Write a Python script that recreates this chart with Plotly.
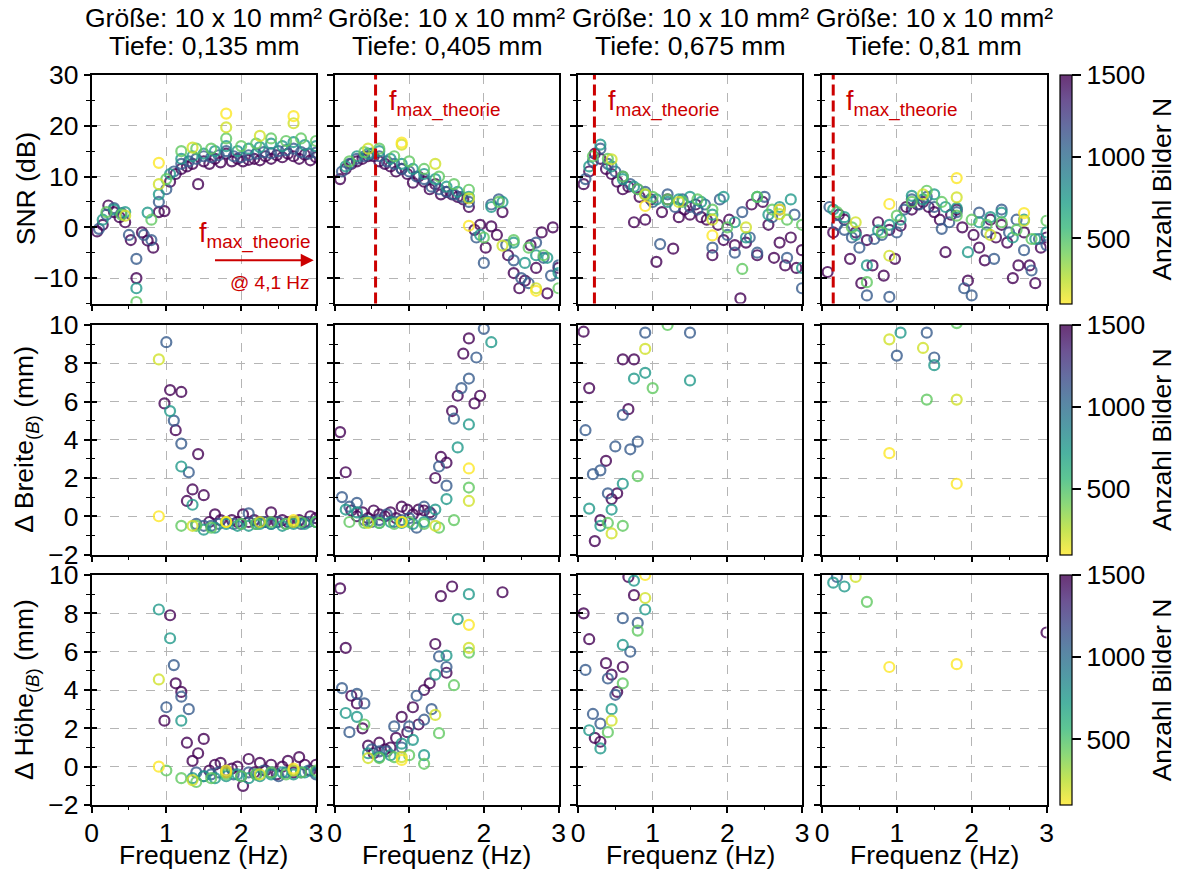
import plotly.graph_objects as go

_ = None

# ---------------- frequency bins (Hz) for each number of images N ----------------
F1500 = [0.075, 0.15, 0.225, 0.3, 0.375, 0.45, 0.525, 0.6, 0.675, 0.75, 0.825, 0.9, 0.975, 1.05,
         1.125, 1.2, 1.275, 1.35, 1.425, 1.5, 1.575, 1.65, 1.725, 1.8, 1.875, 1.95, 2.025, 2.1,
         2.175, 2.25, 2.325, 2.4, 2.475, 2.55, 2.625, 2.7, 2.775, 2.85, 2.925, 3.0]
F1100 = [0.1, 0.2, 0.3, 0.4, 0.5, 0.6, 0.7, 0.8, 0.9, 1.0, 1.1, 1.2, 1.3, 1.4, 1.5, 1.6, 1.7, 1.8,
         1.9, 2.0, 2.1, 2.2, 2.3, 2.4, 2.5, 2.6, 2.7, 2.8, 2.9, 3.0]
F750 = [0.15, 0.3, 0.45, 0.6, 0.75, 0.9, 1.05, 1.2, 1.35, 1.5, 1.65, 1.8, 1.95, 2.1, 2.25, 2.4,
        2.55, 2.7, 2.85, 3.0]
F450 = [0.2, 0.4, 0.6, 0.8, 1.0, 1.2, 1.4, 1.6, 1.8, 2.0, 2.2, 2.4, 2.6, 2.8, 3.0]
F200 = [0.45, 0.9, 1.35, 1.8, 2.25, 2.7]
F100 = [0.9, 1.8, 2.7]

# ---------------- SNR (dB) ----------------
S1_1500 = [-0.8, 0.5, 4.3, 3.0, 2.0, 1.0, -2.5, -10.0, -1.0, -2.6, -4.0, 3.0, 3.2, 9.0, 10.5, 11.5,
           12.0, 12.5, 8.5, 13.0, 12.5, 13.5, 12.8, 14.5, 13.0, 13.5, 13.0, 13.3, 13.5, 13.2, 14.0,
           13.5, 14.2, 13.8, 14.5, 14.0, 13.5, 14.3, 13.2, 13.8]
S1_1100 = [-0.3, 2.5, 3.8, 2.8, -1.5, -6.2, -1.5, -2.5, 5.0, 7.5, 11.0, 12.5, 13.0, 13.5, 14.0,
           13.8, 14.2, 15.0, 14.0, 13.8, 14.2, 14.5, 14.8, 14.6, 15.0, 15.2, 15.5, 14.8, 14.5, 14.7]
S1_750 = [1.5, 3.5, 3.0, -12.0, 2.9, 6.5, 10.5, 13.5, 14.0, 14.5, 15.0, 16.0, 15.0, 15.5, 15.8,
          16.5, 16.0, 16.8, 16.2, 16.0]
S1_450 = [3.0, 2.5, -14.7, 1.5, 9.5, 15.0, 15.5, 15.5, 17.5, 16.0, 16.5, 17.5, 17.0, 17.5, 17.0]
S1_200 = [2.3, 8.5, 15.7, 19.7, 18.0, 20.5]
S1_100 = [12.7, 22.4, 21.9]

S2_1500 = [9.5, 11.5, 12.5, 13.0, 13.5, 14.0, 14.0, 13.0, 12.5, 12.0, 11.0, 11.5, 10.5, 8.8, 10.0,
           9.0, 7.5, 8.5, 6.5, 7.0, 6.5, 6.0, 5.5, 4.0, -0.5, 0.5, -4.0, 0.2, -1.5, 3.0, -5.5, -9.0,
           -12.0, -10.5, -3.5, -8.0, -1.0, -13.0, 0.0, -8.0]
S2_1100 = [11.0, 12.5, 13.5, 14.0, 14.5, 14.0, 13.0, 12.5, 11.5, 11.0, 10.0, 9.5, 8.0, 7.5, 7.0,
           6.5, 6.0, 5.0, -2.0, -7.0, 4.5, 5.5, -3.5, -6.5, -10.0, -11.0, -3.0, -6.0, -9.5, -7.5]
S2_750 = [12.0, 14.0, 14.5, 15.0, 13.5, 12.5, 11.5, 10.5, 9.5, 8.0, 7.0, 6.0, -1.5, 4.0, 5.0, -3.0,
          -7.0, -5.5, -6.0, -9.0]
S2_450 = [13.0, 14.8, 15.5, 14.0, 13.0, 11.5, 10.0, 8.5, 7.4, -2.0, 5.0, -2.5, -4.0, -5.5, -12.0]
S2_200 = [15.5, 16.3, 12.5, 5.7, -3.6, -12.0]
S2_100 = [16.7, 0.3, -12.5]

S3_1500 = [8.5, 11.0, 14.5, 13.5, 11.5, 10.5, 9.0, 7.5, 8.0, 1.0, 6.0, 1.5, 5.5, -6.8, 3.0, 5.5,
           -4.2, 2.0, 3.5, 2.5, 4.5, 2.0, 1.5, -5.5, 0.5, -2.5, 1.5, -3.5, -14.0, -3.0, 4.5, -5.5,
           5.0, 0.5, -6.0, -3.0, -7.5, -2.0, -8.0, -4.5]
S3_1100 = [9.5, 13.0, 15.5, 12.5, 11.0, 10.0, 8.5, 7.5, 7.0, 5.0, -3.3, 6.5, 4.0, 5.5, 4.0, 3.5,
           4.5, -4.0, 5.5, -1.5, -5.0, 3.0, -2.0, -5.0, 6.0, 2.0, 3.5, -6.0, 2.5, -12.0]
S3_750 = [12.0, 16.3, 12.0, 9.5, 8.0, 6.5, 5.5, 5.0, 5.5, 6.0, 5.0, 2.5, 6.0, 1.0, -2.0, 6.0, 2.5,
          4.0, 5.5, -8.0]
S3_450 = [14.0, 13.5, 10.0, 7.5, 6.0, 5.5, 5.0, 5.5, 3.5, 0.0, -8.2, 6.0, 3.5, 1.5, 0.5]
S3_200 = [13.4, 6.5, 5.0, 1.5, 0.0, 2.6]
S3_100 = [4.2, -1.6, 3.5]

S4_1500 = [-8.8, -1.0, 2.5, 1.5, -6.2, -1.0, -11.0, -2.5, -7.5, 1.0, -9.5, -0.5, -6.2, 0.3, 4.0,
           3.5, 4.5, 5.0, 4.0, 3.0, 1.5, -4.9, 2.5, 3.5, 0.0, -10.5, -1.5, -4.0, -6.5, 1.5, -2.0,
           0.5, -3.0, -10.0, -7.5, -1.0, -7.5, -11.0, -4.0, -2.0]
S4_1100 = [4.0, 0.5, -0.5, -2.0, -4.0, -13.4, -2.3, -1.5, -13.7, -1.0, 3.5, 5.5, 4.5, 6.0, 4.0,
           -0.3, 1.0, 3.0, -12.0, -13.4, 2.9, -1.0, -6.2, 3.5, -1.0, 1.5, -4.5, -8.5, -2.3, -3.5]
S4_750 = [3.5, 2.0, -1.5, -7.5, -0.6, 0.5, 1.5, 6.2, 5.5, 6.5, 4.0, 3.8, -4.9, 1.0, 2.0, 2.9, -2.0,
          1.5, -2.3, -1.0]
S4_450 = [3.0, 0.0, -10.8, -1.0, 2.3, 5.0, 7.2, 5.0, 2.3, 1.5, 0.5, 1.0, -0.5, -2.3, 1.3]
S4_200 = [1.0, -5.6, 6.5, 5.9, -1.5, 1.3]
S4_100 = [4.6, 9.7, 2.8]

# ---------------- Delta Breite (mm) ----------------
B1_1500 = [_, _, _, _, _, _, _, _, _, _, _, _, 5.9, 6.6, 4.5, 6.5, 0.8, 1.4, 3.25, 1.1, -0.3, 0.1,
           -0.2, -0.3, -0.2, -0.3, 0.1, -0.3, -0.2, -0.3, -0.3, 0.2, -0.3, -0.2, -0.3, -0.3, -0.2,
           -0.3, 0.0, -0.1]
B1_1100 = [_, _, _, _, _, _, _, _, _, 9.1, 5.0, 3.8, 2.3, -0.4, -0.5, -0.5, -0.4, -0.3, -0.4, -0.4,
           0.15, -0.4, -0.3, -0.4, -0.3, -0.4, -0.3, -0.4, -0.3, -0.3]
B1_750 = [_, _, _, _, _, _, 5.5, 2.6, 0.6, -0.7, -0.6, -0.4, -0.5, -0.5, -0.4, -0.4, -0.5, -0.4,
          -0.4, -0.3]
B1_450 = [_, _, _, _, _, -0.5, -0.5, -0.6, -0.3, -0.4, -0.4, -0.3, -0.4, -0.3, -0.3]
B1_200 = [_, 8.2, -0.5, -0.3, -0.3, -0.3]
B1_100 = [0.0, -0.3, -0.2]

B2_1500 = [4.4, 2.3, 0.3, 0.0, 0.2, -0.1, 0.3, 0.1, 0.0, 0.2, -0.1, 0.5, 0.35, 0.1, 0.35, 0.3, 0.2,
           2.0, 3.1, 2.8, 5.5, 6.3, 8.5, 9.3, 5.9, 6.3, _, _, _, _, _, _, _, _, _, _, _, _, _, _]
B2_1100 = [1.0, 0.5, 0.7, -0.2, -0.3, -0.2, 0.1, -0.3, -0.2, -0.1, -0.6, 0.5, 0.1, 2.6, 1.6, 5.1,
           6.7, 7.2, 8.3, 9.8, _, _, _, _, _, _, _, _, _, _]
B2_750 = [0.35, 0.2, -0.3, -0.35, -0.3, -0.35, -0.4, -0.3, 0.35, 0.9, 3.6, 4.8, _, 9.1, _, _, _, _,
          _, _]
B2_450 = [-0.3, -0.35, -0.35, -0.4, -0.3, -0.4, -0.6, -0.2, 1.5, _, _, _, _, _, _]
B2_200 = [-0.35, -0.3, -0.5, 0.8, _, _]
B2_100 = [-0.3, 2.5, _]

B3_1500 = [9.65, 6.7, -1.3, -0.2, 2.9, 0.9, 1.2, 8.2, 5.6, 8.2, _, _, _, _, _, _, _, _, _, _,
           _, _, _, _, _, _, _, _, _, _, _, _, _, _, _, _, _, _, _, _]
B3_1100 = [4.5, 2.2, 2.4, 1.2, 3.65, 5.3, 3.5, 3.9, 9.6, _, _, _, _, _, 9.6, _, _, _, _, _, _, _, _,
           _, _, _, _, _, _, _]
B3_750 = [0.4, -0.5, 0.35, 1.7, 7.2, 7.5, _, _, _, 7.1, _, _, _, _, _, _, _, _, _, _]
B3_450 = [_, -0.35, -0.5, 2.1, 6.7, 10.0, _, _, _, _, _, _, _, _, _]
B3_200 = [-0.9, 8.75, _, _, _, _]
B3_100 = [_, _, _]

B4_1500 = [_] * 40
B4_1100 = [_, _, _, _, _, _, _, _, _, 8.4, _, _, _, 9.6, 8.3, _, _, _, _, _, _, _, _, _, _, _, _, _,
           _, _]
B4_750 = [_, _, _, _, _, _, 9.6, _, _, 7.9, _, _, _, _, _, _, _, _, _, _]
B4_450 = [_, _, _, _, _, _, 6.1, _, 10.1, _, _, _, _, _, _]
B4_200 = [_, 9.25, 8.8, 6.1, _, _]
B4_100 = [3.3, 1.7, _]

# ---------------- Delta Hoehe (mm) ----------------
H1_1500 = [_, _, _, _, _, _, _, _, _, _, _, _, 2.4, 7.9, 4.35, 3.9, 1.25, 0.3, 0.7, 1.45, -0.2, 0.1,
           0.2, -0.3, -0.1, 0.0, -1.0, 0.4, -0.3, 0.2, -0.2, 0.1, -0.4, 0.0, 0.3, -0.3, 0.5, 0.1,
           -0.2, 0.1]
H1_1100 = [_, _, _, _, _, _, _, _, _, 3.1, 5.3, 3.65, 3.0, -0.3, -0.5, -0.4, -0.3, -0.2, -0.4, -0.5,
           -0.3, -0.4, -0.2, -0.3, -0.5, -0.3, -0.2, -0.3, -0.2, -0.4]
H1_750 = [_, _, _, _, _, 8.2, 6.7, 2.4, -0.6, -0.5, -0.6, -0.5, -0.4, -0.6, -0.5, -0.4, -0.3, -0.4,
          -0.3, -0.3]
H1_450 = [_, _, _, _, -0.2, -0.6, -0.8, -0.6, -0.4, -0.5, -0.4, -0.3, -0.4, -0.3, -0.2]
H1_200 = [_, 4.55, -0.7, -0.3, -0.4, -0.2]
H1_100 = [0.0, -0.2, -0.1]

H2_1500 = [9.3, 6.2, 3.7, 3.3, 2.0, 1.1, 0.7, 1.25, 0.9, 1.0, 1.5, 2.6, 1.8, 3.1, 2.2, 4.0, 4.35,
           6.4, 8.9, 4.9, 9.4, _, _, _, _, _, _, _, _, 9.1, _, _, _, _, _, _, _, _, _, _]
H2_1100 = [4.1, 1.8, 3.8, 3.3, 0.9, 0.8, 0.8, 2.1, 1.0, 2.1, 3.7, 2.45, 3.0, 5.75, 5.2, _, _, _, _,
           _, _, _, _, _, _, _, _, _, _, _]
H2_750 = [2.8, 2.6, 0.7, 0.5, 0.6, 1.2, 1.4, 0.6, 4.8, 5.8, 7.7, 9.0, _, _, _, _, _, _, _, _]
H2_450 = [_, 2.2, 0.45, 0.5, 0.6, 0.15, 1.75, 4.25, 5.95, _, _, _, _, _, _]
H2_200 = [0.45, 0.5, 2.7, 6.2, _, _]
H2_100 = [0.35, 7.4, _]

H3_1500 = [8.0, 6.65, 1.5, 1.3, 5.4, 4.8, 3.9, 5.2, 9.9, 8.95, _, _, _, _, _, _, _, _, _, _,
           _, _, _, _, _, _, _, _, _, _, _, _, _, _, _, _, _, _, _, _]
H3_1100 = [5.05, 2.75, 2.25, 4.6, 3.75, 7.75, 6.0, 7.5, _, _, _, _, _, _, _, _, _, _, _, _, _, _,
           _, _, _, _, _, _, _, _]
H3_750 = [1.9, 0.95, 3.0, 6.35, 9.7, 8.2, _, _, _, _, _, _, _, _, _, _, _, _, _, _]
H3_450 = [_, 1.8, 4.35, 7.1, _, _, _, _, _, _, _, _, _, _, _]
H3_200 = [2.4, 8.8, _, _, _, _]
H3_100 = [10.0, _, _]

H4_1500 = [_] * 39 + [7.0]
H4_1100 = [_, 9.9] + [_] * 28
H4_750 = [9.6, 9.4] + [_] * 18
H4_450 = [_, _, 8.6] + [_] * 12
H4_200 = [9.9, _, _, _, _, _]
H4_100 = [5.2, 5.35, _]

# ---------------- text ----------------
SIZE_LABEL = "Größe: 10 x 10 mm²"
DEPTH_LABELS = ["Tiefe: 0,135 mm", "Tiefe: 0,405 mm", "Tiefe: 0,675 mm", "Tiefe: 0,81 mm"]
Y_TITLES = ["SNR (dB)", "Δ Breite<sub>(<i>B</i>)</sub> (mm)", "Δ Höhe<sub>(<i>B</i>)</sub> (mm)"]
X_TITLE = "Frequenz (Hz)"
CB_TITLE = "Anzahl Bilder N"
F_THEORY = [None, 0.55, 0.22, 0.15]   # Hz, theoretical max. frequency markers

LEVELS = [1500, 1100, 750, 450, 200, 100]
FREQS = {1500: F1500, 1100: F1100, 750: F750, 450: F450, 200: F200, 100: F100}


def panel(a, b, c, d, e, f):
    return dict(zip(LEVELS, [a, b, c, d, e, f]))


PANELS = [
    [panel(S1_1500, S1_1100, S1_750, S1_450, S1_200, S1_100),
     panel(S2_1500, S2_1100, S2_750, S2_450, S2_200, S2_100),
     panel(S3_1500, S3_1100, S3_750, S3_450, S3_200, S3_100),
     panel(S4_1500, S4_1100, S4_750, S4_450, S4_200, S4_100)],
    [panel(B1_1500, B1_1100, B1_750, B1_450, B1_200, B1_100),
     panel(B2_1500, B2_1100, B2_750, B2_450, B2_200, B2_100),
     panel(B3_1500, B3_1100, B3_750, B3_450, B3_200, B3_100),
     panel(B4_1500, B4_1100, B4_750, B4_450, B4_200, B4_100)],
    [panel(H1_1500, H1_1100, H1_750, H1_450, H1_200, H1_100),
     panel(H2_1500, H2_1100, H2_750, H2_450, H2_200, H2_100),
     panel(H3_1500, H3_1100, H3_750, H3_450, H3_200, H3_100),
     panel(H4_1500, H4_1100, H4_750, H4_450, H4_200, H4_100)],
]

# ---------------- styling ----------------
W, H = 1186, 872
FONT = "Liberation Sans, Arial, sans-serif"
FS = 26.5
RED = "#cc0000"
VIRIDIS = ['#440154', '#482878', '#3e4989', '#31688e', '#26828e',
           '#1f9e89', '#35b779', '#6ece58', '#b5de2b', '#fde725']


def rgba(h, a=0.8):
    h = h.lstrip('#')
    return "rgba(%d,%d,%d,%s)" % (int(h[0:2], 16), int(h[2:4], 16), int(h[4:6], 16), a)


CSCALE = [[i / 9, rgba(col)] for i, col in enumerate(VIRIDIS[::-1])]

COLS_PX = [(91.5, 316.0), (334.5, 558.5), (578.0, 802.0), (822.0, 1046.5)]
ROWS_PX = [(75.0, 303.5), (325.0, 554.5), (575.0, 805.0)]
YRANGES = [[-15, 30], [-2, 10], [-2, 10]]
YDTICK = [10, 2, 2]
YMINOR = [5, 1, 1]

fig = go.Figure()
layout = {}


def px2x(p):
    return p / W


def px2y(p):
    return 1 - p / H


for r in range(3):
    for c in range(4):
        k = r * 4 + c + 1
        sfx = "" if k == 1 else str(k)
        xs, ys, ns = [], [], []
        for n in LEVELS:
            vals = PANELS[r][c][n]
            assert len(vals) == len(FREQS[n]), (r, c, n, len(vals))
            for fq, v in zip(FREQS[n], vals):
                if v is not None:
                    xs.append(fq)
                    ys.append(v)
                    ns.append(n)
        cax = "coloraxis" if r == 0 else "coloraxis%d" % (r + 1)
        fig.add_trace(go.Scatter(
            x=xs, y=ys, mode="markers", xaxis="x" + sfx, yaxis="y" + sfx,
            marker=dict(symbol="circle-open", size=10, color=ns, coloraxis=cax,
                        line=dict(width=2.2)),
            showlegend=False, hoverinfo="skip", cliponaxis=True))

        x0, x1 = COLS_PX[c]
        y0, y1 = ROWS_PX[r]
        common = dict(showline=True, linecolor="black", linewidth=1.5, mirror=True,
                      ticks="outside", ticklen=6, tickwidth=1.5, tickcolor="black",
                      showgrid=True, gridcolor="#b5b5b5", griddash="dash", gridwidth=1,
                      zeroline=False, tickfont=dict(size=FS, color="black", family=FONT),
                      automargin=False)
        layout["xaxis" + sfx] = dict(
            common, domain=[px2x(x0), px2x(x1)], range=[0, 3], anchor="y" + sfx,
            tick0=0, dtick=1, showticklabels=(r == 2), ticklabelstandoff=-3,
            minor=dict(ticks="outside", ticklen=3.5, tickwidth=1.2, tickcolor="black",
                       dtick=0.5, tick0=0, showgrid=False))
        layout["yaxis" + sfx] = dict(
            common, domain=[px2y(y1), px2y(y0)], range=YRANGES[r], anchor="x" + sfx,
            tick0=0, dtick=YDTICK[r], showticklabels=(c == 0),
            minor=dict(ticks="outside", ticklen=3.5, tickwidth=1.2, tickcolor="black",
                       dtick=YMINOR[r], tick0=0, showgrid=False))

        # inner half of the y ticks (ticks cross the left spine)
        k2 = k + 12
        layout["yaxis%d" % k2] = dict(
            overlaying="y" + sfx, anchor="x" + sfx, side="left", range=YRANGES[r],
            tick0=0, dtick=YDTICK[r], ticks="inside", ticklen=5, tickwidth=1.5,
            tickcolor="black", showticklabels=False, showgrid=False, showline=False,
            zeroline=False,
            minor=dict(ticks="inside", ticklen=3, tickwidth=1.2, tickcolor="black",
                       dtick=YMINOR[r], tick0=0, showgrid=False))
        fig.add_trace(go.Scatter(x=[None], y=[None], xaxis="x" + sfx, yaxis="y%d" % k2,
                                 mode="markers", showlegend=False, hoverinfo="skip"))

# colour axes / colour bars (one per row)
for r in range(3):
    name = "coloraxis" if r == 0 else "coloraxis%d" % (r + 1)
    y0, y1 = ROWS_PX[r]
    layout[name] = dict(
        colorscale=CSCALE, cmin=100, cmax=1500,
        colorbar=dict(x=px2x(1060), xanchor="left", y=px2y((y0 + y1) / 2), yanchor="middle",
                      len=(y1 - y0) / H, lenmode="fraction", thickness=12,
                      thicknessmode="pixels", xpad=0, ypad=0,
                      outlinecolor="black", outlinewidth=1.2,
                      tickvals=[500, 1000, 1500], ticks="outside", ticklen=9,
                      tickwidth=1.5, tickcolor="black",
                      tickfont=dict(size=FS, color="black", family=FONT),
                      title=dict(text=CB_TITLE, side="right",
                                 font=dict(size=FS, color="black", family=FONT))))

annotations = []
shapes = []
for c in range(4):
    xc = px2x((COLS_PX[c][0] + COLS_PX[c][1]) / 2)
    annotations.append(dict(text=SIZE_LABEL, x=xc, y=px2y(18), xref="paper", yref="paper",
                            xanchor="center", yanchor="middle", showarrow=False,
                            font=dict(size=FS, color="black", family=FONT)))
    annotations.append(dict(text=DEPTH_LABELS[c], x=xc, y=px2y(46), xref="paper", yref="paper",
                            xanchor="center", yanchor="middle", showarrow=False,
                            font=dict(size=FS, color="black", family=FONT)))
    annotations.append(dict(text=X_TITLE, x=xc, y=px2y(872), xref="paper", yref="paper",
                            xanchor="center", yanchor="bottom", showarrow=False,
                            font=dict(size=FS, color="black", family=FONT)))

for r in range(3):
    yc = px2y((ROWS_PX[r][0] + ROWS_PX[r][1]) / 2)
    annotations.append(dict(text=Y_TITLES[r], x=px2x(26), y=yc, xref="paper", yref="paper",
                            xanchor="center", yanchor="middle", textangle=-90, showarrow=False,
                            font=dict(size=FS, color="black", family=FONT)))

# theoretical max frequency lines + labels (top row)
for c in range(1, 4):
    k = c + 1
    shapes.append(dict(type="line", xref="x%d" % k, yref="y%d domain" % k,
                       x0=F_THEORY[c], x1=F_THEORY[c], y0=0, y1=1,
                       line=dict(color=RED, width=3, dash="11px,5px")))
    annotations.append(dict(text="f<sub>max_theorie</sub>", x=F_THEORY[c] + 0.15, y=24.3,
                            xref="x%d" % k, yref="y%d" % k, xanchor="left", yanchor="middle",
                            showarrow=False, font=dict(size=27, color=RED, family=FONT)))

# first column: arrow pointing to 4.1 Hz
annotations.append(dict(text="f<sub>max_theorie</sub>", x=1.41, y=-1.6, xref="x", yref="y",
                        xanchor="left", yanchor="middle", showarrow=False,
                        font=dict(size=27, color=RED, family=FONT)))
annotations.append(dict(text="", x=2.97, y=-6.5, ax=1.63, ay=-6.5, xref="x", yref="y",
                        axref="x", ayref="y", showarrow=True, arrowhead=2, arrowsize=1.3,
                        arrowwidth=2, arrowcolor=RED))
annotations.append(dict(text="@ 4,1 Hz", x=2.93, y=-10.8, xref="x", yref="y",
                        xanchor="right", yanchor="middle", showarrow=False,
                        font=dict(size=19, color=RED, family=FONT)))

fig.update_layout(
    width=W, height=H, margin=dict(l=0, r=0, t=0, b=0),
    paper_bgcolor="white", plot_bgcolor="white",
    font=dict(family=FONT, color="black", size=FS),
    annotations=annotations, shapes=shapes, **layout)

fig.write_html("out.html")
